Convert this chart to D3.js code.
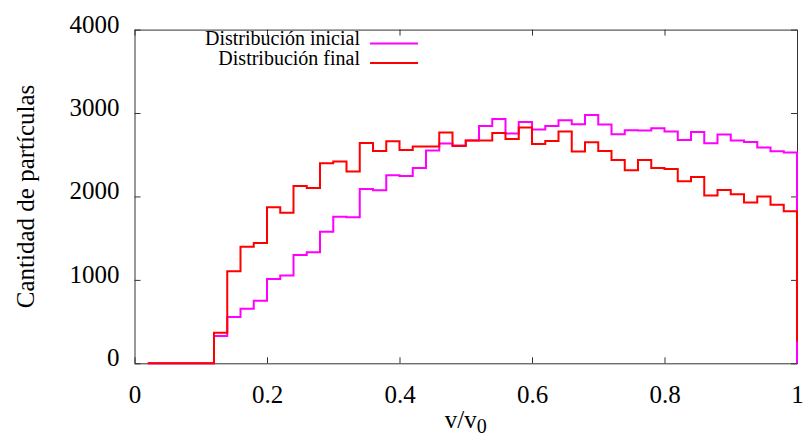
<!DOCTYPE html>
<html>
<head>
<meta charset="utf-8">
<script src="https://cdn.jsdelivr.net/npm/d3@7"></script>
<style>
  body { margin: 0; background: #fff; }
</style>
</head>
<body>
<div id="chart"></div>
<script>
// bin left edges (v/v0), last entry closes the histogram
var binEdges = [0.02, 0.04, 0.06, 0.08, 0.10, 0.12, 0.14, 0.16, 0.18, 0.20,
  0.22, 0.24, 0.26, 0.28, 0.30, 0.32, 0.34, 0.36, 0.38, 0.40,
  0.42, 0.44, 0.46, 0.48, 0.50, 0.52, 0.54, 0.56, 0.58, 0.60,
  0.62, 0.64, 0.66, 0.68, 0.70, 0.72, 0.74, 0.76, 0.78, 0.80,
  0.82, 0.84, 0.86, 0.88, 0.90, 0.92, 0.94, 0.96, 0.98, 1.00];

var inicial = [0, 0, 0, 0, 0, 327, 555, 655, 751, 1011,
  1051, 1299, 1331, 1578, 1758, 1750, 2090, 2074, 2254, 2246,
  2342, 2550, 2634, 2610, 2670, 2845, 2929, 2754, 2893, 2802,
  2845, 2913, 2866, 2977, 2861, 2746, 2794, 2790, 2818, 2778,
  2678, 2774, 2638, 2742, 2670, 2654, 2586, 2542, 2526, 0];

var final_ = [0, 0, 0, 0, 0, 367, 1103, 1398, 1442, 1870,
  1806, 2126, 2102, 2398, 2418, 2298, 2642, 2546, 2662, 2558,
  2598, 2598, 2766, 2606, 2670, 2670, 2762, 2690, 2826, 2630,
  2666, 2778, 2538, 2650, 2546, 2438, 2314, 2438, 2342, 2330,
  2182, 2234, 2010, 2078, 2026, 1926, 1998, 1902, 1822, 260];

var xTicks = [0, 0.2, 0.4, 0.6, 0.8, 1];
var yTicks = [0, 1000, 2000, 3000, 4000];

var series = [
  {name: "Distribución inicial", values: inicial, color: "#ff00ff"},
  {name: "Distribución final", values: final_, color: "#ff0000"}
];

var width = 805, height = 436;
var margin = {left: 134.5, right: 8, top: 29.6, bottom: 72.7};
var serif = "'Liberation Serif'";

var svg = d3.select("#chart").append("svg")
  .attr("width", width)
  .attr("height", height);

var x = d3.scaleLinear().domain([0, 1]).range([margin.left, width - margin.right]);
var y = d3.scaleLinear().domain([0, 4000]).range([height - margin.bottom, margin.top]);

var fmtX = function(d){ return d === 0 || d === 1 ? String(d) : d3.format(".1f")(d); };

// axes, ticks pointing inwards and mirrored on all sides
svg.append("g")
  .attr("transform", "translate(0," + y(0) + ")")
  .call(d3.axisBottom(x).tickValues(xTicks).tickSizeInner(-6).tickSizeOuter(0).tickPadding(22).tickFormat(fmtX));
svg.append("g")
  .attr("transform", "translate(0," + y(4000) + ")")
  .call(d3.axisTop(x).tickValues(xTicks).tickSizeInner(-6).tickSizeOuter(0).tickFormat(""));
svg.append("g")
  .attr("class", "yaxis")
  .attr("transform", "translate(" + x(0) + ",0)")
  .call(d3.axisLeft(y).tickValues(yTicks).tickSizeInner(-6).tickSizeOuter(0).tickPadding(15).tickFormat(d3.format("d")));
svg.append("g")
  .attr("transform", "translate(" + x(1) + ",0)")
  .call(d3.axisRight(y).tickValues(yTicks).tickSizeInner(-6).tickSizeOuter(0).tickFormat(""));

svg.selectAll(".domain").attr("stroke", "#333");
svg.selectAll(".tick line").attr("stroke", "#333");
svg.selectAll(".tick text")
  .style("font-family", serif)
  .style("font-size", "25px")
  .attr("fill", "#000");
// gnuplot puts the y labels a little above their ticks
svg.selectAll(".yaxis .tick text").attr("dy", "0.1em");

var line = d3.line()
  .x(function(d, i){ return x(binEdges[i]); })
  .y(function(d){ return y(d); })
  .curve(d3.curveStepAfter);

series.forEach(function(s){
  svg.append("path")
    .datum(s.values)
    .attr("fill", "none")
    .attr("stroke", s.color)
    .attr("stroke-width", 2)
    .attr("d", line);
});

// legend
var legend = svg.append("g");
series.forEach(function(s, i){
  var by = 45 + i * 19.5;
  legend.append("text")
    .attr("x", 360).attr("y", by)
    .attr("text-anchor", "end")
    .style("font-family", serif)
    .style("font-size", "20px")
    .text(s.name);
  legend.append("line")
    .attr("x1", 370).attr("x2", 418)
    .attr("y1", by - 1.5).attr("y2", by - 1.5)
    .attr("stroke", s.color)
    .attr("stroke-width", 2);
});

// axis titles
svg.append("text")
  .attr("transform", "translate(34," + ((y(0) + y(4000)) / 2) + ") rotate(-90)")
  .attr("text-anchor", "middle")
  .style("font-family", serif)
  .style("font-size", "25px")
  .text("Cantidad de partículas");

var xl = svg.append("text")
  .attr("x", (x(0) + x(1)) / 2)
  .attr("y", 428)
  .attr("text-anchor", "middle")
  .style("font-family", serif)
  .style("font-size", "25px");
xl.append("tspan").text("v/v");
xl.append("tspan").attr("dy", 5).style("font-size", "20px").text("0");
</script>
</body>
</html>
